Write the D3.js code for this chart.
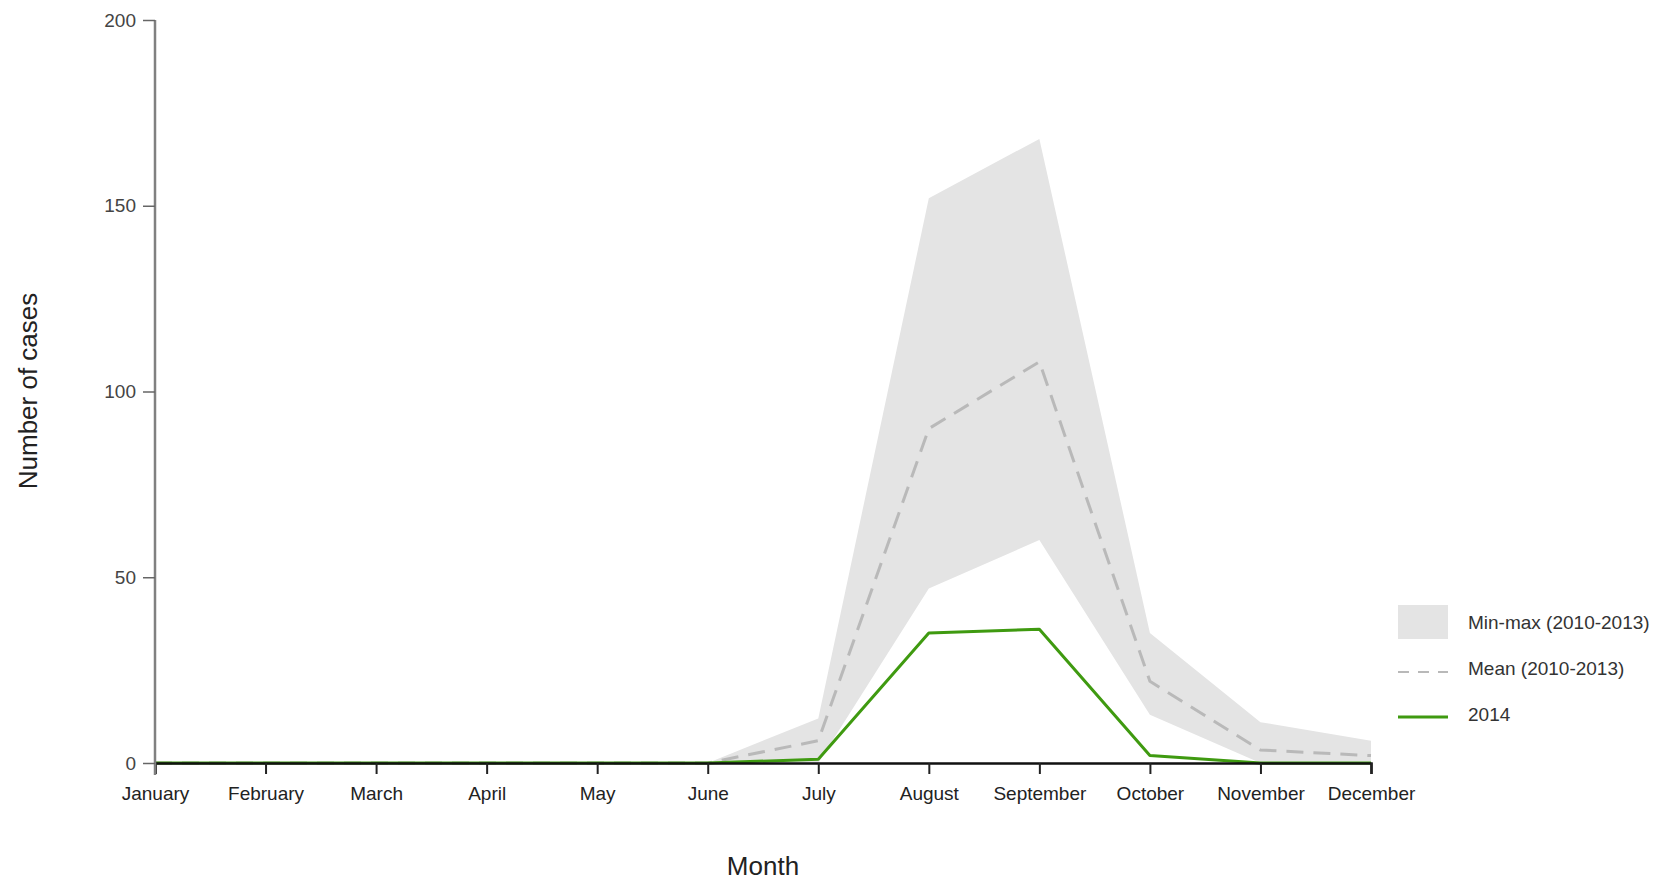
<!DOCTYPE html>
<html>
<head>
<meta charset="utf-8">
<script src="https://cdn.jsdelivr.net/npm/d3@7"></script>
<style>
  body { margin: 0; background: #fff; }
  text { font-family: "Liberation Sans", Arial, sans-serif; }
</style>
</head>
<body>
<script>
// data
const months = ["January", "February", "March", "April", "May", "June",
  "July", "August", "September", "October", "November", "December"];
const minCases = [0, 0, 0, 0, 0, 0, 0, 47, 60, 13, 0, 0];
const maxCases = [0, 0, 0, 0, 0, 0, 12, 152, 168, 35, 11, 6];
const meanCases = [0, 0, 0, 0, 0, 0, 6, 90, 108, 22, 3.5, 2];
const cases2014 = [0, 0, 0, 0, 0, 0, 1, 35, 36, 2, 0, 0];
const yTicks = [0, 50, 100, 150, 200];
const legendLabels = ["Min-max (2010-2013)", "Mean (2010-2013)", "2014"];

const w = 1672;
const h = 882;

const svg = d3.select("body").append("svg")
  .attr("width", w)
  .attr("height", h);

const xScale = d3.scalePoint()
  .domain(months)
  .range([155, 1371]);

const yScale = d3.scaleLinear()
  .domain([0, 200])
  .range([763, 20]);

const rows = months.map((m, i) => ({
  m: m, lo: minCases[i], hi: maxCases[i], mean: meanCases[i], y14: cases2014[i]
}));

// min-max band
const area = d3.area()
  .x((d) => xScale(d.m))
  .y0((d) => yScale(d.lo))
  .y1((d) => yScale(d.hi));

svg.append("path")
  .datum(rows)
  .attr("d", area)
  .attr("fill", "#e4e4e4");

// mean line
svg.append("path")
  .datum(rows)
  .attr("d", d3.line().x((d) => xScale(d.m)).y((d) => yScale(d.mean)))
  .attr("fill", "none")
  .attr("stroke", "#b9b9b9")
  .attr("stroke-width", 3)
  .attr("stroke-dasharray", "17,10");

// 2014 line
svg.append("path")
  .datum(rows)
  .attr("d", d3.line().x((d) => xScale(d.m)).y((d) => yScale(d.y14)))
  .attr("fill", "none")
  .attr("stroke", "#3f9a10")
  .attr("stroke-width", 3)
  .attr("stroke-linejoin", "round");

// axes
const xAxis = svg.append("g")
  .attr("transform", "translate(0," + yScale(0) + ")")
  .call(d3.axisBottom(xScale).tickSize(11).tickPadding(13));
xAxis.select(".domain").attr("stroke", "#111").attr("stroke-width", 2.5);
xAxis.selectAll(".tick line").attr("stroke", "#222").attr("stroke-width", 2);
xAxis.selectAll(".tick text")
  .attr("font-size", 19)
  .attr("fill", "#222");

const yAxis = svg.append("g")
  .attr("transform", "translate(" + xScale(months[0]) + ",0)")
  .call(d3.axisLeft(yScale).tickValues(yTicks).tickSize(12).tickPadding(7));
yAxis.select(".domain")
  .attr("d", "M0," + (yScale(200)) + "V" + (yScale(0) + 12))
  .attr("stroke", "#808080").attr("stroke-width", 2.5);
yAxis.selectAll(".tick line").attr("stroke", "#666").attr("stroke-width", 1.5);
yAxis.selectAll(".tick text")
  .attr("font-size", 19)
  .attr("fill", "#444");

// axis titles
svg.append("text")
  .attr("x", 763)
  .attr("y", 875)
  .attr("text-anchor", "middle")
  .attr("font-size", 26)
  .attr("fill", "#222")
  .text("Month");

svg.append("text")
  .attr("transform", "translate(37,391) rotate(-90)")
  .attr("text-anchor", "middle")
  .attr("font-size", 26)
  .attr("fill", "#222")
  .text("Number of cases");

// legend
const legend = svg.append("g").attr("transform", "translate(1398,0)");
legend.append("rect")
  .attr("x", 0).attr("y", 605)
  .attr("width", 50).attr("height", 34)
  .attr("fill", "#e4e4e4");
legend.append("line")
  .attr("x1", 0).attr("x2", 50).attr("y1", 672).attr("y2", 672)
  .attr("stroke", "#b9b9b9").attr("stroke-width", 2)
  .attr("stroke-dasharray", "11,9");
legend.append("line")
  .attr("x1", 0).attr("x2", 50).attr("y1", 717).attr("y2", 717)
  .attr("stroke", "#3f9a10").attr("stroke-width", 3);

legend.selectAll(".lab")
  .data(legendLabels)
  .enter()
  .append("text")
  .attr("class", "lab")
  .attr("x", 70)
  .attr("y", (d, i) => 629 + i * 46)
  .attr("font-size", 19)
  .attr("fill", "#333")
  .text((d) => d);
</script>
</body>
</html>
